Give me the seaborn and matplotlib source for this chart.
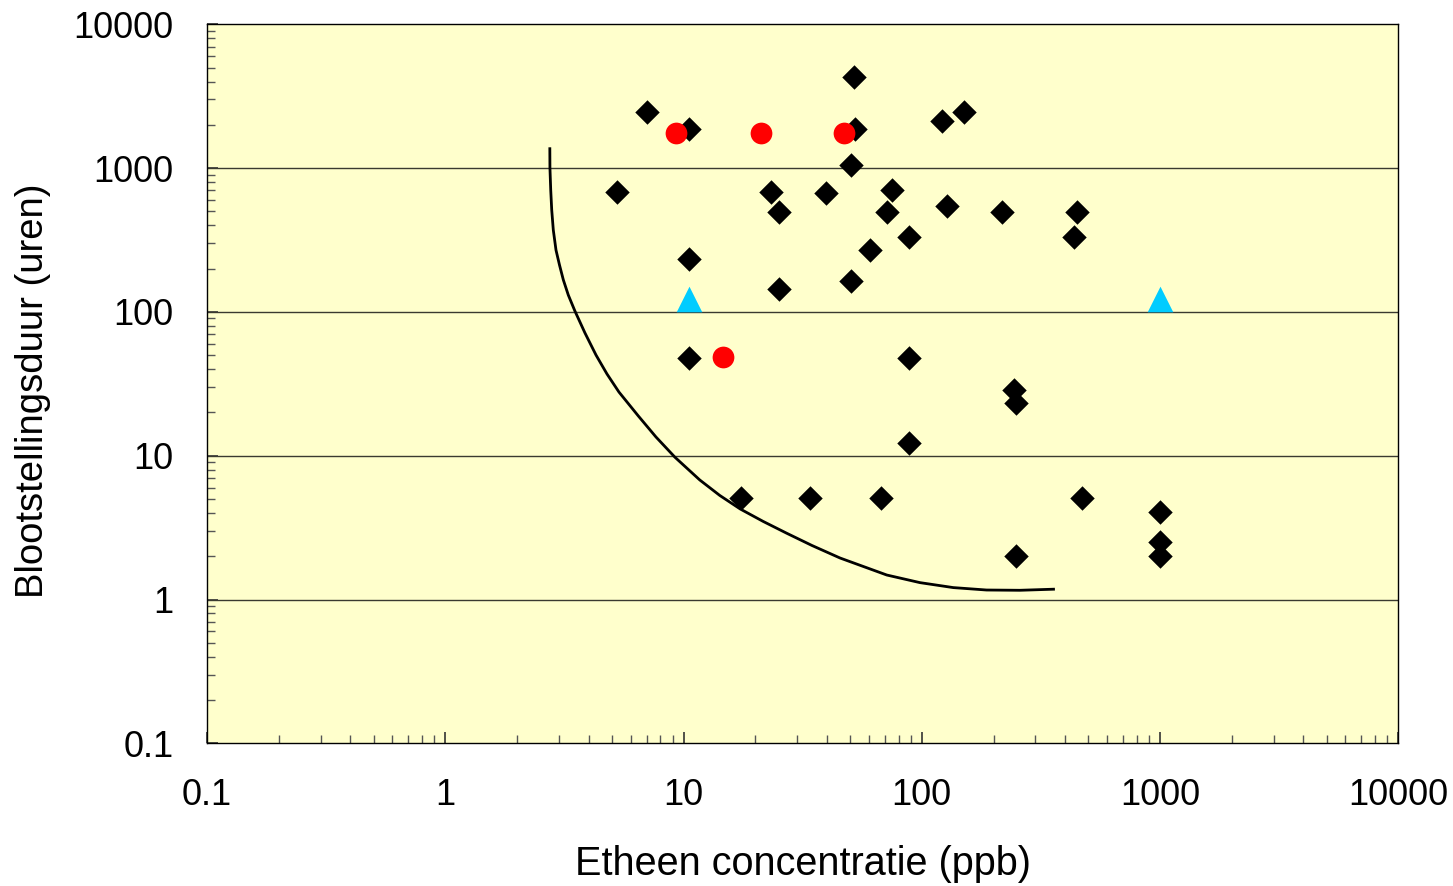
import numpy as np
import pandas as pd
import matplotlib
matplotlib.use("Agg")
import matplotlib.pyplot as plt
import seaborn as sns
from matplotlib.ticker import FixedLocator, FixedFormatter, NullFormatter

# ---------------- data ----------------
diamond_conc = [5.26, 7.03, 10.5, 10.5, 10.5, 17.4, 23.3, 25.2, 25.2, 33.8,
                39.6, 50.4, 50.4, 51.7, 52.5, 60.7, 67.6, 71.4, 75.1, 88.3,
                88.3, 88.3, 121.5, 128.2, 149.7, 218, 242.7, 249, 249, 436,
                448, 471, 1000, 1000, 1000]
diamond_hours = [679, 2436, 1871, 234, 47.8, 5.06, 679, 495, 144, 5.06,
                 675, 1051, 165, 4321, 1858, 268, 5.06, 495, 704, 333,
                 47.8, 12.2, 2126, 543, 2436, 495, 28.6, 23.4, 2.0, 333,
                 495, 5.06, 4.04, 2.5, 2.0]

circle_conc = [9.31, 21.2, 47.1, 14.6]
circle_hours = [1746, 1746, 1746, 48.8]

triangle_conc = [10.5, 1000]
triangle_hours = [122, 122]

curve_conc = [2.747, 2.750, 2.771, 2.798, 2.841, 2.916, 3.016, 3.13, 3.284, 3.50,
              3.859, 4.293, 4.773, 5.359, 6.46, 7.66, 9.21, 11.7, 14.2, 17.3,
              21.6, 27.1, 34.6, 45.4, 71.3, 98.3, 135.6, 187, 258, 362]
curve_hours = [1395, 1006, 704, 511, 371, 269, 212, 167, 131, 101.5,
               71.3, 50.1, 37.0, 27.7, 18.9, 13.5, 9.75, 6.78, 5.29, 4.26,
               3.49, 2.89, 2.375, 1.943, 1.48, 1.31, 1.21, 1.164, 1.159, 1.18]

tick_values = [0.1, 1, 10, 100, 1000, 10000]
tick_labels = ["0.1", "1", "10", "100", "1000", "10000"]

x_label = "Etheen concentratie (ppb)"
y_label = "Blootstellingsduur (uren)"

# ---------------- style ----------------
sns.set_theme(style="ticks")
plt.rcParams['font.family'] = ['Liberation Sans', 'DejaVu Sans']

fig = plt.figure(figsize=(14.53, 8.86), dpi=100)
ax = fig.add_axes([207 / 1453, 142.7 / 886, 1191.3 / 1453, 719 / 886])
ax.set_facecolor('#FFFFCC')

ax.set_xscale('log')
ax.set_yscale('log')
ax.set_xlim(0.1, 10000)
ax.set_ylim(0.1, 10000)

# horizontal grid lines at major y ticks
for v in tick_values[1:-1]:
    ax.axhline(v, color='#3a3a30', lw=1.0, zorder=1)

curve_df = pd.DataFrame({"conc": curve_conc, "hours": curve_hours})
sns.lineplot(data=curve_df, x="conc", y="hours", sort=False, estimator=None,
             color='black', lw=2.0, ax=ax, zorder=2,
             solid_joinstyle='round', solid_capstyle='butt')

d_df = pd.DataFrame({"conc": diamond_conc, "hours": diamond_hours})
sns.scatterplot(data=d_df, x="conc", y="hours", marker='D', s=155,
                color='black', linewidth=0, ax=ax, zorder=3)

c_df = pd.DataFrame({"conc": circle_conc, "hours": circle_hours})
sns.scatterplot(data=c_df, x="conc", y="hours", marker='o', s=245,
                color='#FF0000', linewidth=0, ax=ax, zorder=4)

t_df = pd.DataFrame({"conc": triangle_conc, "hours": triangle_hours})
sns.scatterplot(data=t_df, x="conc", y="hours", marker='^', s=340,
                color='#00CCFF', linewidth=0, ax=ax, zorder=5)

# ticks
minor = [m * 10.0 ** e for e in range(-1, 4) for m in range(2, 10)]
for axis in (ax.xaxis, ax.yaxis):
    axis.set_major_locator(FixedLocator(tick_values))
    axis.set_major_formatter(FixedFormatter(tick_labels))
    axis.set_minor_locator(FixedLocator(minor))
    axis.set_minor_formatter(NullFormatter())

ax.tick_params(axis='both', which='major', direction='in', length=8, width=1.2,
               color='#333333', labelsize=26, labelcolor='black')
ax.tick_params(axis='both', which='minor', direction='in', length=6, width=1.0,
               color='#555555')
ax.tick_params(axis='x', which='major', pad=25)
ax.tick_params(axis='y', which='major', pad=24)
ax.tick_params(top=False, right=False, which='both')

for s in ax.spines.values():
    s.set_visible(True)
    s.set_color('black')
    s.set_linewidth(1.0)

ax.set_xlabel(x_label, fontsize=28.5, color='black')
ax.set_ylabel(y_label, fontsize=27.5, color='black')
ax.xaxis.set_label_coords(0.5, -0.141)
ax.yaxis.set_label_coords(-0.131, 0.49)

fig.savefig("out.png", dpi=100)
